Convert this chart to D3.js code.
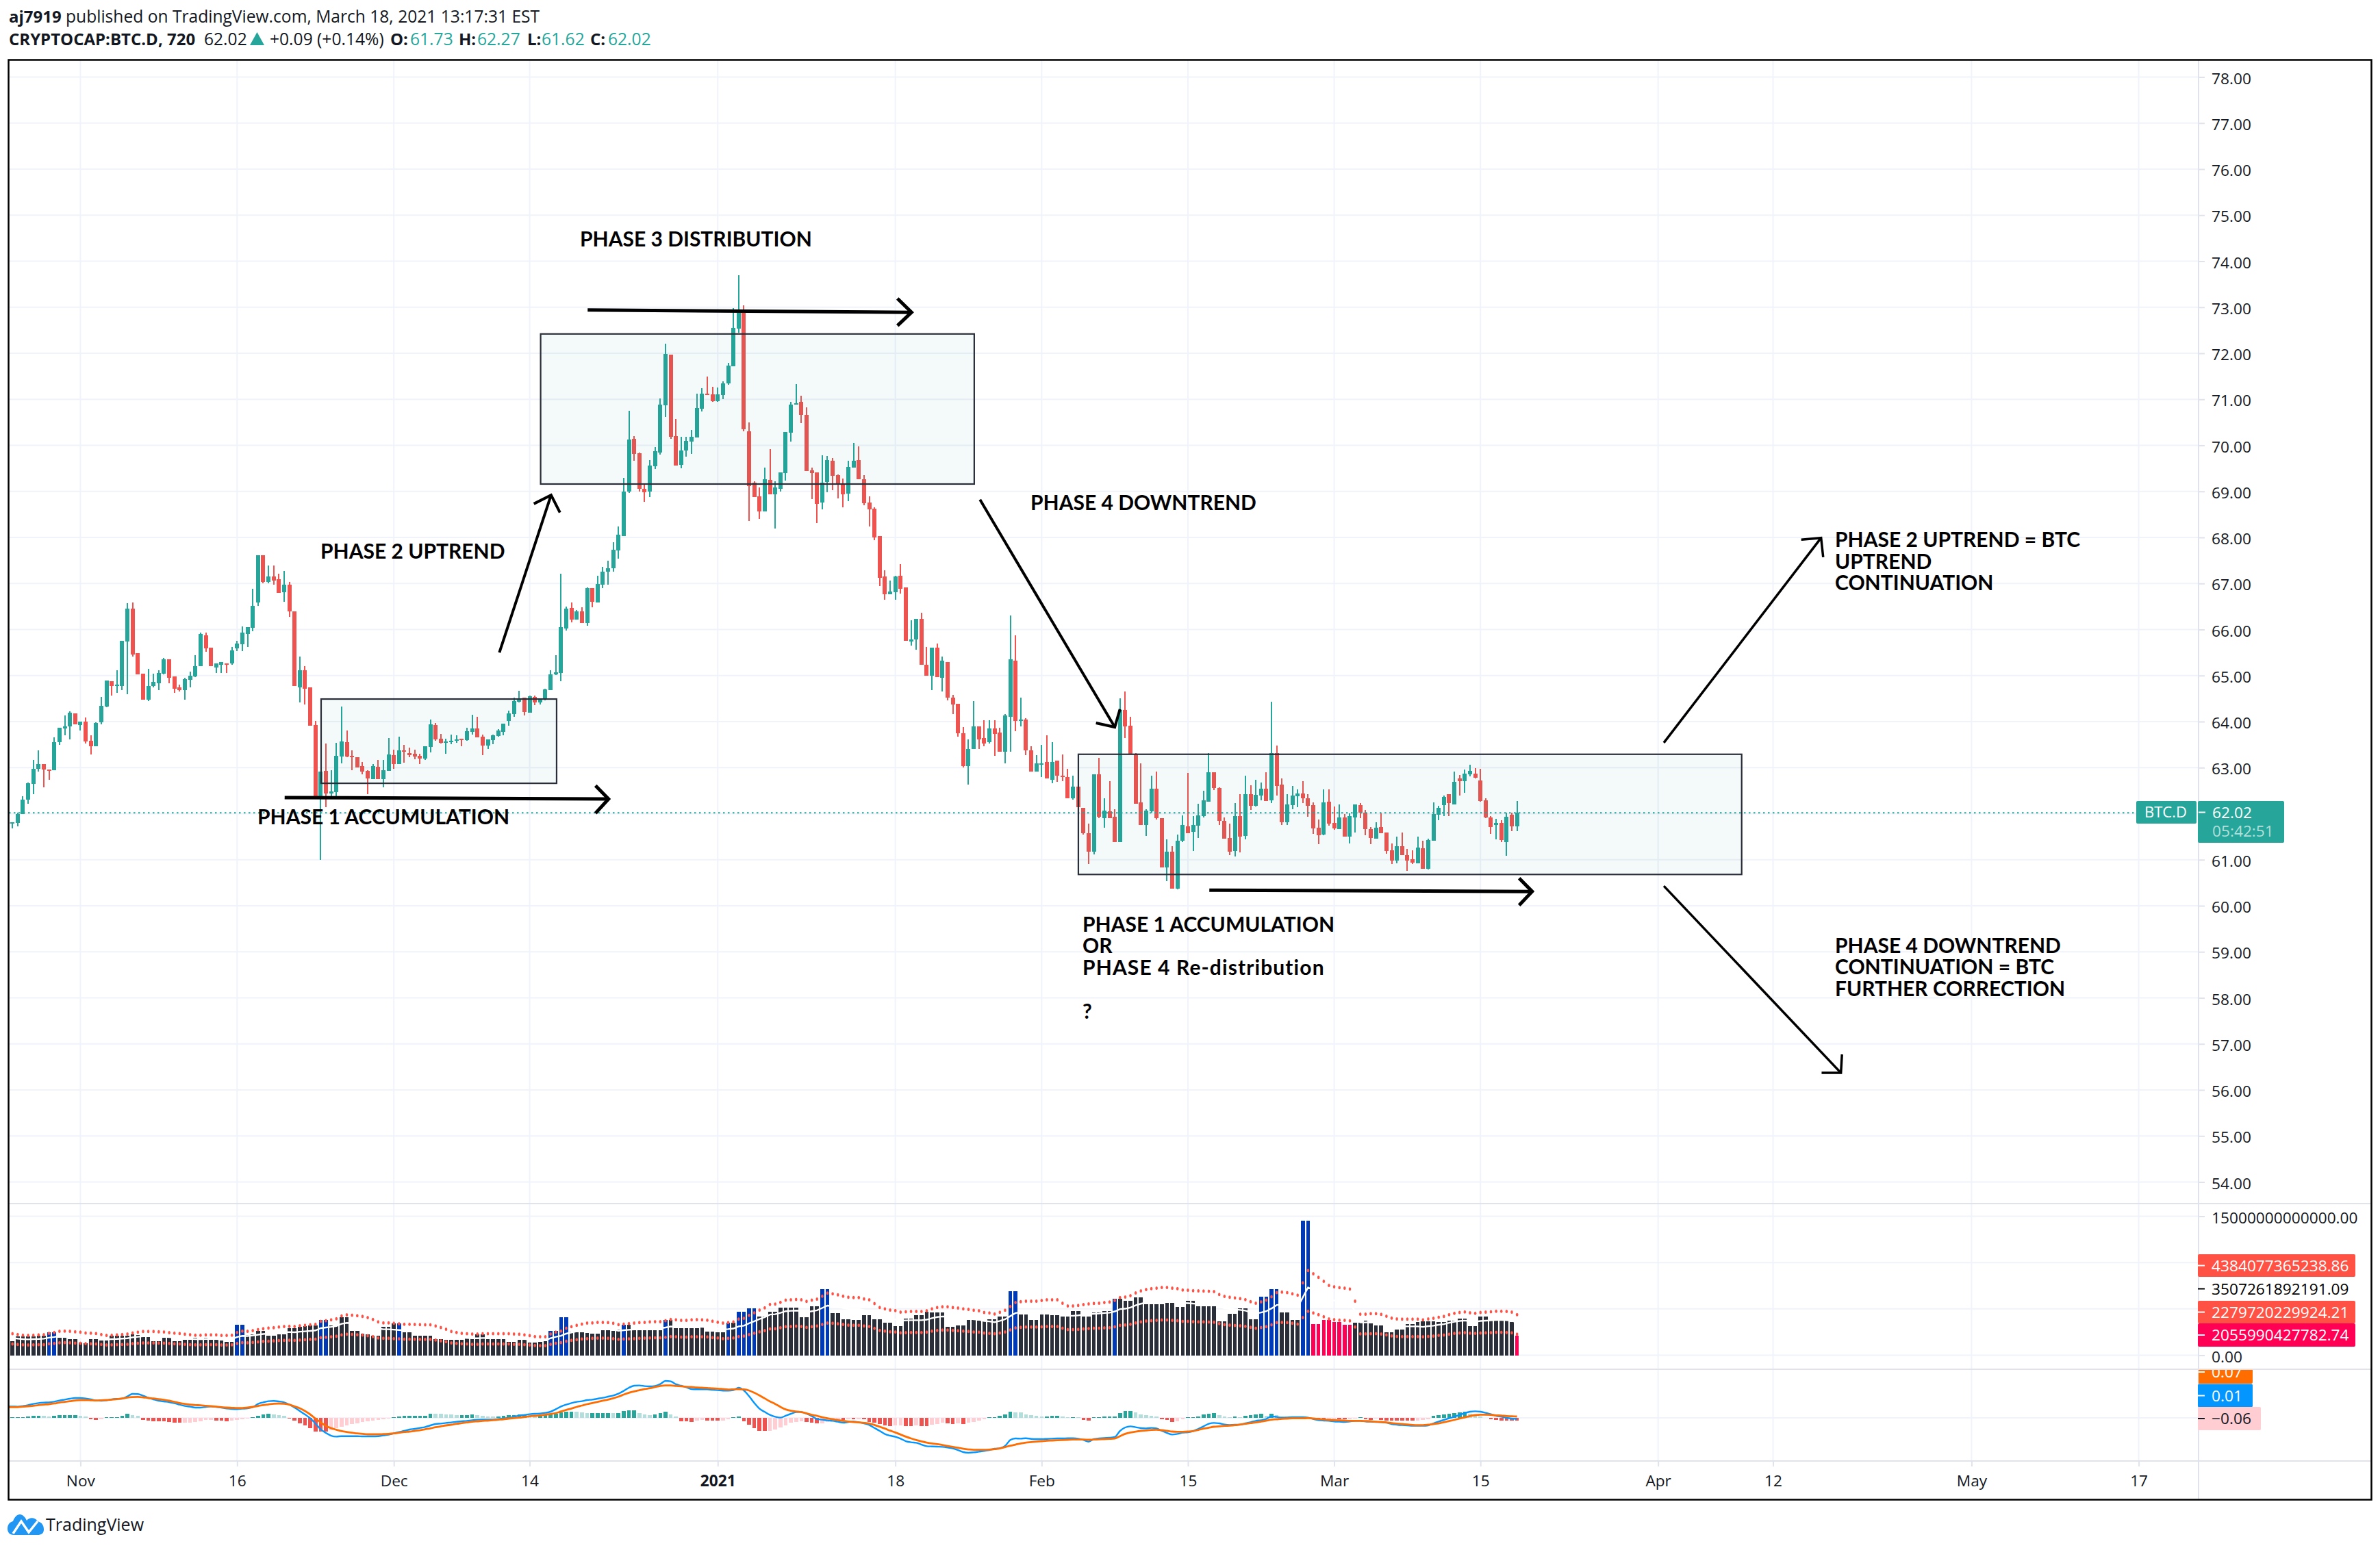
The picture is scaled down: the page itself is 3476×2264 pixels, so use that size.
<!DOCTYPE html>
<html>
<head>
<meta charset="utf-8">
<script src="https://cdn.jsdelivr.net/npm/d3@7/dist/d3.min.js"></script>
<style>
html,body{margin:0;padding:0;background:#fff;overflow:hidden}
text{font-family:"Open Sans",sans-serif;fill:#131722}
</style>
</head>
<body>
<script>
// 12h candles, first bar is Oct 25 2020
var opens = [61.81,61.78,61.80,61.99,62.30,62.65,62.97,63.08,62.96,62.94,
63.55,63.85,63.89,64.18,63.92,64.00,63.58,63.46,63.98,64.32,
64.87,64.77,64.78,65.74,66.46,65.48,65.04,64.47,64.77,64.83,
65.04,65.36,64.98,64.74,64.68,64.90,64.98,65.20,65.88,65.60,
65.18,65.24,65.27,65.26,65.59,65.68,65.91,66.03,66.58,67.61,
67.03,67.15,67.09,66.81,66.97,66.40,64.74,65.12,64.74,63.92,
62.34,62.93,62.44,62.47,63.24,63.56,63.26,63.23,63.04,62.93,
62.75,63.02,62.75,62.93,63.27,63.08,63.38,63.32,63.30,63.26,
63.20,63.45,63.93,63.63,63.54,63.56,63.59,63.63,63.60,63.78,
63.85,63.67,63.48,63.60,63.69,63.78,64.02,64.17,64.43,64.52,
64.19,64.54,64.42,64.49,64.69,65.03,65.06,66.02,66.47,66.22,
66.40,66.14,66.90,66.59,66.97,67.25,67.33,67.72,68.03,69.00,
70.14,69.83,69.06,68.99,69.55,69.85,70.87,71.97,70.20,69.58,
69.89,70.08,70.17,70.80,71.12,71.11,70.96,71.09,71.35,71.72,
72.54,72.95,70.31,69.19,68.89,68.57,69.25,68.94,69.06,69.40,
70.28,70.89,70.95,70.66,69.46,69.41,68.76,69.21,69.67,69.35,
69.15,68.95,69.52,69.68,69.27,68.76,68.63,68.03,67.15,66.76,
66.81,67.16,66.91,65.74,65.78,66.23,65.24,64.99,65.60,64.95,
65.30,64.52,64.38,63.74,63.03,63.41,63.89,63.65,63.55,63.85,
63.76,63.34,64.10,65.33,64.01,64.04,63.37,62.92,63.07,63.12,
62.73,63.15,62.82,62.80,62.34,62.58,62.12,61.58,61.17,62.85,
61.91,62.05,61.94,61.39,64.26,63.91,63.30,62.24,61.76,62.05,
62.55,61.91,60.84,61.18,60.37,61.41,61.73,61.61,61.74,61.95,
62.26,62.90,62.56,61.84,61.47,61.19,61.95,61.52,62.42,62.17,
62.39,62.54,62.29,63.32,62.63,61.81,62.19,62.38,62.44,62.33,
62.19,61.70,61.55,62.26,61.80,61.67,61.92,61.50,61.92,62.19,
62.02,61.67,61.46,61.71,61.59,61.20,60.98,61.29,61.10,61.01,
60.92,61.25,60.80,61.41,61.98,62.19,62.42,62.20,62.77,62.71,
62.86,62.87,62.72,62.29,61.92,61.75,61.80,61.38,61.98,61.73];

var highs = [61.81,61.81,62.02,62.38,62.68,63.17,63.37,63.08,62.96,63.66,
63.87,64.14,64.22,64.18,64.00,64.09,63.70,63.98,64.53,64.89,
64.87,65.11,65.75,66.57,66.58,65.48,65.04,65.14,65.04,65.11,
65.38,65.36,64.98,64.81,64.95,65.08,65.44,65.93,65.94,65.60,
65.27,65.30,65.27,65.62,65.76,66.07,66.05,66.88,67.61,67.61,
67.39,67.39,67.21,67.27,67.03,66.40,65.42,65.21,64.74,64.01,
62.91,63.52,62.95,63.54,64.33,63.81,63.38,63.23,63.12,62.95,
63.08,63.17,63.17,63.65,63.39,63.68,63.50,63.44,63.39,63.30,
63.47,64.05,63.97,63.73,63.63,63.72,63.70,63.63,63.87,64.15,
64.11,63.72,63.62,63.72,63.84,63.96,64.24,64.52,64.67,64.52,
64.57,64.57,64.51,64.72,65.12,65.44,67.21,66.50,66.59,66.43,
66.48,66.92,66.90,67.17,67.36,67.50,67.90,68.24,69.29,70.75,
70.20,69.85,69.16,69.68,69.96,71.02,72.21,71.97,70.57,70.19,
70.19,70.34,71.12,71.24,71.50,71.27,71.26,71.39,71.79,72.98,
73.70,73.04,70.50,69.22,69.09,69.52,69.92,69.22,69.41,70.29,
70.95,71.33,71.08,70.83,69.52,69.41,69.79,69.77,69.73,69.37,
69.28,69.67,70.05,69.98,69.35,68.89,68.66,68.03,67.28,67.06,
67.16,67.42,66.91,66.20,66.23,66.36,65.62,65.60,65.69,65.41,
65.30,64.58,64.38,63.88,63.61,64.44,63.89,64.03,64.03,64.03,
63.86,64.16,66.31,65.87,64.52,64.08,63.47,63.27,63.49,63.70,
63.56,63.15,63.28,62.98,62.83,62.58,62.12,61.79,62.86,63.21,
62.34,62.70,62.09,64.50,64.65,64.11,63.31,63.10,62.09,62.83,
62.91,61.91,61.44,61.29,61.54,61.96,62.89,61.95,62.21,62.50,
63.32,62.90,62.57,61.92,61.78,62.23,62.42,62.82,62.62,62.74,
62.68,62.90,64.43,63.48,62.77,62.42,62.60,62.53,62.71,62.42,
62.25,61.87,62.53,62.53,62.16,62.20,61.99,62.01,62.20,62.23,
62.08,61.71,61.81,62.01,61.59,61.35,61.50,61.59,61.23,61.20,
61.50,61.41,61.46,62.25,62.17,62.39,62.42,62.91,62.84,62.96,
63.06,62.99,62.97,62.33,61.95,61.89,61.86,62.02,62.02,62.27];

var lows = [61.77,61.68,61.72,61.99,62.21,62.42,62.91,62.57,62.74,62.94,
63.49,63.70,63.61,63.94,63.80,63.52,63.28,63.46,63.94,64.31,
64.56,64.63,64.69,64.60,65.41,65.02,64.47,64.44,64.74,64.69,
65.02,64.83,64.62,64.65,64.47,64.74,64.96,65.20,65.51,65.21,
65.06,65.06,65.06,65.24,65.53,65.53,65.62,65.97,66.51,67.01,
67.00,66.98,66.79,66.60,66.27,64.78,64.41,64.37,63.91,62.34,
60.99,62.14,62.35,62.35,63.09,63.23,62.95,63.01,62.86,62.42,
62.75,62.75,62.57,62.93,62.98,63.08,63.11,63.23,63.18,63.08,
63.17,63.33,63.59,63.53,63.30,63.51,63.54,63.47,63.59,63.72,
63.66,63.27,63.41,63.51,63.67,63.70,63.91,64.11,64.42,64.13,
64.19,64.36,64.37,64.46,64.69,65.01,64.88,65.98,66.16,66.22,
66.14,66.08,66.48,66.59,66.90,66.97,67.26,67.54,68.03,68.97,
69.67,69.00,68.77,68.88,69.49,69.80,70.62,70.14,69.56,69.50,
69.76,69.82,70.17,70.74,71.09,70.95,70.95,71.00,71.32,71.72,
72.45,70.31,68.36,68.88,68.40,68.57,68.94,68.19,69.00,69.23,
70.08,70.89,70.48,69.44,68.83,68.31,68.61,68.98,69.03,68.85,
68.66,68.79,69.52,69.27,68.70,68.24,67.94,66.95,66.64,66.76,
66.64,66.78,65.75,65.65,65.56,65.23,64.99,64.68,64.96,64.66,
64.46,64.17,63.68,63.01,62.63,63.40,63.41,63.47,63.52,63.25,
63.34,63.09,63.34,63.79,63.89,63.27,62.92,62.92,62.79,62.76,
62.66,62.69,62.70,62.34,62.31,62.14,61.54,60.90,61.12,61.90,
61.70,61.91,61.39,61.39,63.65,63.30,62.22,61.76,61.51,62.02,
61.87,60.84,60.54,60.37,60.35,61.39,61.57,61.19,61.47,61.92,
62.26,62.51,61.75,61.46,61.10,61.07,61.16,61.44,62.08,62.16,
62.29,62.27,62.23,62.39,61.75,61.75,62.10,62.14,62.23,61.93,
61.56,61.34,61.53,61.74,61.65,61.67,61.50,61.35,61.59,61.90,
61.53,61.34,61.46,61.58,61.13,60.91,60.92,61.10,60.76,60.91,
60.92,60.80,60.79,61.41,61.86,61.95,61.95,62.20,62.39,62.45,
62.81,62.77,62.26,61.90,61.56,61.44,61.38,61.09,61.62,61.62];

var closes = [61.78,61.81,62.00,62.31,62.66,62.98,63.08,62.96,62.94,63.56,
63.86,63.89,64.20,63.94,64.00,63.57,63.47,63.97,64.34,64.89,
64.77,64.80,65.75,66.46,65.45,65.02,64.47,64.78,64.86,65.05,
65.36,64.95,64.72,64.68,64.92,64.99,65.21,65.90,65.59,65.21,
65.27,65.29,65.24,65.54,65.69,65.93,66.05,66.52,67.61,67.04,
67.15,67.06,66.79,66.98,66.39,64.78,65.11,64.72,63.91,62.34,
62.91,62.44,62.48,63.26,63.57,63.24,63.23,63.01,62.92,62.77,
63.04,62.75,62.95,63.29,63.08,63.38,63.36,63.27,63.24,63.20,
63.47,63.94,63.62,63.54,63.57,63.59,63.62,63.61,63.79,63.85,
63.66,63.48,63.62,63.70,63.81,63.96,64.18,64.45,64.48,64.21,
64.55,64.42,64.48,64.70,65.03,65.07,66.05,66.45,66.22,66.40,
66.14,66.90,66.60,66.99,67.26,67.33,67.73,68.06,69.00,70.13,
69.82,69.06,68.98,69.56,69.87,70.89,71.99,70.19,69.56,69.89,
70.10,70.19,70.81,71.12,71.11,70.96,71.11,71.35,71.73,72.55,
72.95,70.35,69.12,68.88,68.57,69.27,68.94,69.09,69.41,70.29,
70.89,70.92,70.66,69.44,69.40,68.73,69.19,69.68,69.34,69.14,
68.94,69.53,69.67,69.27,68.74,68.61,68.00,67.13,66.76,66.82,
67.15,66.88,65.75,65.79,66.23,65.23,64.99,65.60,64.96,65.32,
64.52,64.37,63.74,63.04,63.40,63.89,63.62,63.52,63.85,63.73,
63.34,64.13,65.35,64.01,64.04,63.38,62.92,63.10,63.09,62.76,
63.12,62.83,62.79,62.34,62.58,62.14,61.57,61.17,62.85,61.94,
62.06,61.91,61.39,64.25,63.89,63.30,62.22,61.76,62.06,62.54,
61.91,60.84,61.18,60.37,61.42,61.76,61.58,61.75,61.96,62.29,
62.90,62.56,61.84,61.46,61.17,61.95,61.50,62.42,62.17,62.41,
62.54,62.27,63.32,62.60,61.81,62.20,62.39,62.44,62.33,62.17,
61.68,61.53,62.25,61.78,61.68,61.92,61.50,61.95,62.20,62.02,
61.67,61.47,61.70,61.58,61.19,60.98,61.29,61.10,60.98,60.94,
61.26,60.80,61.43,61.99,62.13,62.36,62.23,62.69,62.71,62.87,
62.93,62.78,62.27,61.92,61.71,61.80,61.43,61.93,61.72,62.02];

// volume in trillions
var volumes = [1.55,1.55,2.0,2.0,2.0,2.0,2.07,2.07,2.49,2.49,
1.85,1.85,1.7,1.7,1.4,1.31,1.75,1.7,1.58,1.6,
2.07,2.07,2.14,2.14,2.22,2.19,2.12,2.12,1.53,1.53,
1.85,1.85,1.53,1.53,1.67,1.65,1.85,1.8,1.85,1.63,
1.63,1.58,1.45,1.45,3.3,3.3,2.17,2.22,2.66,2.66,
2.07,2.07,2.29,2.29,2.91,2.91,3.1,3.15,3.18,3.18,
3.82,3.82,3.2,3.15,4.11,4.11,2.66,2.66,2.32,2.27,
2.12,2.12,3.1,3.1,3.4,3.4,2.44,2.44,2.07,2.07,
2.12,2.14,1.77,1.72,1.67,1.67,1.67,1.67,1.87,1.92,
2.22,2.22,1.7,1.7,1.7,1.7,1.45,1.45,1.63,1.63,
1.4,1.4,1.43,1.48,2.59,2.59,4.11,4.11,2.56,2.44,
2.44,2.41,2.36,2.36,2.71,2.71,2.59,2.76,3.28,3.28,
2.71,2.71,2.73,2.73,2.73,2.73,3.82,3.82,2.91,2.91,
2.91,2.93,2.93,2.96,2.56,2.56,2.44,2.44,3.52,3.52,
4.7,4.7,5.07,5.07,4.14,4.14,4.7,4.7,5.12,5.12,
5.12,5.12,4.11,4.11,5.3,5.3,7.14,7.14,4.56,4.56,
3.89,3.89,3.82,3.82,4.33,4.33,3.89,3.89,3.52,3.52,
3.15,3.15,3.97,3.97,4.33,4.33,4.7,4.63,4.63,4.63,
3.08,3.08,3.23,3.23,3.82,3.82,3.74,3.74,3.89,3.89,
4.19,4.19,6.92,6.92,4.41,4.41,3.82,3.82,4.41,4.41,
4.33,4.29,4.19,4.19,4.78,4.78,4.19,4.19,4.63,4.63,
4.78,4.78,6.11,6.11,5.89,5.89,6.26,6.26,5.47,5.52,
5.52,5.52,5.67,5.62,5.22,5.22,5.89,5.89,5.3,5.3,
5.3,5.3,3.67,3.67,4.48,4.48,5.07,5.07,3.89,3.89,
6.33,6.33,7.14,7.14,4.63,4.63,3.82,3.82,14.53,14.53,
3.37,3.37,3.82,3.82,3.6,3.6,3.3,3.3,3.52,3.52,
3.74,3.45,3.23,3.23,2.49,2.49,2.78,2.78,3.37,3.37,
3.6,3.67,3.67,3.67,3.6,3.6,3.74,3.74,3.97,3.97,
3.15,3.15,4.19,4.19,3.82,3.82,3.74,3.74,3.6,2.12];

var blueBars = [8,9,44,45,60,61,75,104,105,106,107,118,126,138,140,141,142,143,156,157,192,193,212,240,241,242,243,248,249];
var pinkBars = [250,251,252,253,254,255,256,257,289];

var volUpper = [2.32,2.32,2.24,2.17,2.14,2.17,2.19,2.22,2.36,2.46,
2.59,2.61,2.59,2.54,2.49,2.41,2.39,2.34,2.24,2.14,
2.17,2.19,2.24,2.29,2.41,2.49,2.56,2.56,2.56,2.54,
2.51,2.44,2.39,2.34,2.27,2.22,2.17,2.17,2.19,2.19,
2.19,2.14,2.14,2.17,2.46,2.61,2.59,2.66,2.78,2.86,
2.93,2.98,3.05,3.10,3.13,3.10,3.18,3.23,3.28,3.35,
3.65,3.74,3.82,3.94,4.24,4.36,4.33,4.26,4.19,4.06,
3.87,3.60,3.50,3.50,3.45,3.40,3.35,3.35,3.33,3.30,
3.28,3.28,3.15,3.00,2.81,2.56,2.46,2.36,2.32,2.29,
2.29,2.32,2.32,2.32,2.32,2.32,2.32,2.29,2.27,2.19,
2.12,2.02,2.00,2.00,2.29,2.49,2.61,2.91,3.08,3.23,
3.37,3.47,3.50,3.55,3.55,3.52,3.45,3.30,3.37,3.42,
3.47,3.52,3.55,3.60,3.62,3.62,3.74,3.87,3.82,3.77,
3.77,3.82,3.84,3.82,3.79,3.67,3.57,3.47,3.52,3.60,
3.89,3.99,4.31,4.58,4.88,5.12,5.49,5.52,5.71,5.94,
5.99,6.03,5.99,5.81,5.94,6.06,6.38,6.70,6.63,6.53,
6.38,6.26,6.23,6.23,6.08,5.99,5.57,5.15,5.00,4.88,
4.83,4.66,4.70,4.73,4.73,4.73,4.80,5.00,5.15,5.22,
5.22,5.15,5.10,5.00,4.95,4.85,4.80,4.61,4.56,4.46,
4.63,4.85,5.27,5.69,5.79,5.84,5.84,5.84,5.91,5.99,
5.99,5.99,5.62,5.32,5.32,5.37,5.47,5.54,5.59,5.62,
5.69,5.74,5.91,6.23,6.28,6.43,6.72,6.95,7.09,7.19,
7.24,7.32,7.32,7.24,7.19,7.04,7.02,6.97,6.95,6.92,
6.90,6.87,6.55,6.35,6.26,6.18,6.11,6.01,5.79,5.62,
5.76,5.94,6.31,6.77,6.82,6.77,6.63,6.48,7.81,9.14,
8.79,8.40,7.98,7.54,7.39,7.29,7.24,7.14,5.84,4.43,
4.43,4.48,4.48,4.41,4.21,4.01,3.92,3.89,3.89,3.89,
3.89,3.82,3.92,3.99,4.11,4.19,4.38,4.53,4.61,4.68,
4.58,4.53,4.61,4.66,4.70,4.75,4.75,4.73,4.66,4.38];

var volMid = [1.86,1.86,1.79,1.74,1.71,1.74,1.75,1.78,1.89,1.97,
2.07,2.09,2.07,2.03,1.99,1.93,1.91,1.87,1.79,1.71,
1.74,1.75,1.79,1.83,1.93,1.99,2.05,2.05,2.05,2.03,
2.01,1.95,1.91,1.87,1.82,1.78,1.74,1.74,1.75,1.75,
1.75,1.71,1.71,1.74,1.97,2.09,2.07,2.13,2.22,2.29,
2.34,2.38,2.44,2.48,2.50,2.48,2.54,2.58,2.62,2.68,
2.92,2.99,3.06,3.15,3.39,3.49,3.46,3.41,3.35,3.25,
3.10,2.88,2.80,2.80,2.76,2.72,2.68,2.68,2.66,2.64,
2.62,2.62,2.52,2.40,2.25,2.05,1.97,1.89,1.86,1.83,
1.83,1.86,1.86,1.86,1.86,1.86,1.86,1.83,1.82,1.75,
1.70,1.62,1.60,1.60,1.83,1.99,2.09,2.33,2.46,2.58,
2.70,2.78,2.80,2.84,2.84,2.82,2.76,2.64,2.70,2.74,
2.78,2.82,2.84,2.88,2.90,2.90,2.99,3.10,3.06,3.02,
3.02,3.06,3.07,3.06,3.03,2.94,2.86,2.78,2.82,2.88,
3.11,3.19,3.45,3.66,3.90,4.10,4.39,4.42,4.57,4.75,
4.79,4.82,4.79,4.65,4.75,4.85,5.10,5.36,5.30,5.22,
5.10,5.01,4.98,4.98,4.86,4.79,4.46,4.12,4.00,3.90,
3.86,3.73,3.76,3.78,3.78,3.78,3.84,4.00,4.12,4.18,
4.18,4.12,4.08,4.00,3.96,3.88,3.84,3.69,3.65,3.57,
3.70,3.88,4.22,4.55,4.63,4.67,4.67,4.67,4.73,4.79,
4.79,4.79,4.50,4.26,4.26,4.30,4.38,4.43,4.47,4.50,
4.55,4.59,4.73,4.98,5.02,5.14,5.38,5.56,5.67,5.75,
5.79,5.86,5.86,5.79,5.75,5.63,5.62,5.58,5.56,5.54,
5.52,5.50,5.24,5.08,5.01,4.94,4.89,4.81,4.63,4.50,
4.61,4.75,5.05,5.42,5.46,5.42,5.30,5.18,6.25,7.31,
7.03,6.72,6.38,6.03,5.91,5.83,5.79,5.71,4.67,3.54,
3.54,3.58,3.58,3.53,3.37,3.21,3.14,3.11,3.11,3.11,
3.11,3.06,3.14,3.19,3.29,3.35,3.50,3.62,3.69,3.74,
3.66,3.62,3.69,3.73,3.76,3.80,3.80,3.78,3.73,3.51];

var volLower = [1.21,1.21,1.16,1.13,1.11,1.13,1.14,1.15,1.23,1.28,
1.35,1.36,1.35,1.32,1.29,1.25,1.24,1.22,1.16,1.11,
1.13,1.14,1.16,1.19,1.25,1.29,1.33,1.33,1.33,1.32,
1.31,1.27,1.24,1.22,1.18,1.15,1.13,1.13,1.14,1.14,
1.14,1.11,1.11,1.13,1.28,1.36,1.35,1.38,1.45,1.49,
1.52,1.55,1.59,1.61,1.63,1.61,1.65,1.68,1.71,1.74,
1.90,1.94,1.99,2.05,2.20,2.27,2.25,2.22,2.18,2.11,
2.01,1.87,1.82,1.82,1.79,1.77,1.74,1.74,1.73,1.72,
1.71,1.71,1.64,1.56,1.46,1.33,1.28,1.23,1.21,1.19,
1.19,1.21,1.21,1.21,1.21,1.21,1.21,1.19,1.18,1.14,
1.10,1.05,1.04,1.04,1.19,1.29,1.36,1.51,1.60,1.68,
1.75,1.80,1.82,1.85,1.85,1.83,1.79,1.72,1.75,1.78,
1.80,1.83,1.85,1.87,1.88,1.88,1.94,2.01,1.99,1.96,
1.96,1.99,2.00,1.99,1.97,1.91,1.86,1.80,1.83,1.87,
2.02,2.07,2.24,2.38,2.54,2.66,2.85,2.87,2.97,3.09,
3.11,3.14,3.11,3.02,3.09,3.15,3.32,3.48,3.45,3.40,
3.32,3.26,3.24,3.24,3.16,3.11,2.90,2.68,2.60,2.54,
2.51,2.42,2.44,2.46,2.46,2.46,2.50,2.60,2.68,2.71,
2.71,2.68,2.65,2.60,2.57,2.52,2.50,2.40,2.37,2.32,
2.41,2.52,2.74,2.96,3.01,3.04,3.04,3.04,3.07,3.11,
3.11,3.11,2.92,2.77,2.77,2.79,2.84,2.88,2.91,2.92,
2.96,2.98,3.07,3.24,3.27,3.34,3.49,3.61,3.69,3.74,
3.76,3.81,3.81,3.76,3.74,3.66,3.65,3.62,3.61,3.60,
3.59,3.57,3.41,3.30,3.26,3.21,3.18,3.13,3.01,2.92,
3.00,3.09,3.28,3.52,3.55,3.52,3.45,3.37,4.06,4.75,
4.57,4.37,4.15,3.92,3.84,3.79,3.76,3.71,3.04,2.30,
2.30,2.33,2.33,2.29,2.19,2.09,2.04,2.02,2.02,2.02,
2.02,1.99,2.04,2.07,2.14,2.18,2.28,2.36,2.40,2.43,
2.38,2.36,2.40,2.42,2.44,2.47,2.47,2.46,2.42,2.28];

var macdLine = [.25,.25,.245,.26,.28,.305,.325,.335,.34,.355,
.38,.40,.42,.435,.435,.425,.405,.38,.375,.385,
.405,.415,.42,.47,.525,.52,.485,.44,.405,.375,
.36,.345,.32,.29,.26,.245,.225,.225,.24,.25,
.24,.225,.205,.195,.19,.20,.21,.235,.305,.34,
.365,.37,.36,.34,.29,.225,.15,.075,-.01,-.125,
-.25,-.33,-.39,-.41,-.40,-.40,-.40,-.40,-.405,-.405,
-.405,-.40,-.385,-.37,-.34,-.31,-.285,-.255,-.24,-.22,
-.20,-.165,-.135,-.125,-.11,-.10,-.085,-.075,-.065,-.05,
-.04,-.035,-.035,-.035,-.025,-.01,0,.025,.05,.065,
.08,.09,.095,.11,.135,.19,.25,.29,.325,.35,
.365,.39,.40,.42,.44,.465,.49,.53,.59,.66,
.705,.71,.695,.69,.70,.74,.81,.80,.735,.705,
.67,.63,.625,.625,.625,.615,.605,.595,.595,.605,
.66,.60,.475,.325,.20,.13,.065,.025,.005,.045,
.09,.125,.13,.09,.04,-.025,-.04,-.055,-.065,-.085,
-.105,-.09,-.08,-.095,-.12,-.155,-.22,-.285,-.355,-.39,
-.415,-.455,-.51,-.535,-.545,-.585,-.62,-.625,-.63,-.635,
-.65,-.67,-.705,-.75,-.765,-.755,-.74,-.725,-.705,-.675,
-.665,-.615,-.485,-.45,-.455,-.445,-.46,-.465,-.465,-.46,
-.455,-.45,-.45,-.445,-.445,-.455,-.485,-.52,-.465,-.45,
-.44,-.435,-.42,-.285,-.21,-.185,-.205,-.225,-.23,-.22,
-.23,-.285,-.33,-.365,-.35,-.325,-.315,-.29,-.24,-.185,
-.13,-.11,-.12,-.145,-.155,-.15,-.15,-.12,-.095,-.065,
-.05,-.025,.035,.02,.005,.01,.015,.015,.015,.005,
-.025,-.05,-.06,-.065,-.08,-.085,-.09,-.08,-.065,-.065,
-.08,-.085,-.09,-.095,-.105,-.135,-.15,-.16,-.165,-.175,
-.175,-.175,-.165,-.12,-.08,-.045,-.01,.025,.065,.105,
.135,.145,.135,.11,.08,.045,.025,0,-.015,-.02];

var signalLine = [.235,.235,.235,.245,.255,.265,.28,.29,.30,.315,
.335,.35,.365,.38,.39,.39,.385,.38,.385,.39,
.40,.41,.425,.445,.455,.46,.45,.435,.425,.41,
.395,.375,.35,.325,.305,.29,.28,.275,.265,.255,
.245,.235,.225,.22,.215,.215,.225,.24,.26,.28,
.295,.31,.315,.31,.29,.25,.21,.15,.075,-.015,
-.10,-.175,-.225,-.26,-.29,-.31,-.325,-.34,-.35,-.36,
-.36,-.36,-.355,-.35,-.34,-.325,-.31,-.30,-.285,-.27,
-.25,-.23,-.205,-.185,-.165,-.15,-.13,-.115,-.10,-.085,
-.075,-.065,-.06,-.05,-.04,-.03,-.015,-.005,.005,.02,
.035,.045,.055,.07,.085,.105,.14,.175,.205,.24,
.27,.30,.325,.35,.375,.40,.43,.465,.51,.55,
.58,.605,.63,.65,.675,.70,.71,.71,.70,.69,
.68,.675,.665,.66,.655,.645,.64,.63,.62,.625,
.63,.625,.60,.55,.49,.425,.36,.305,.24,.185,
.155,.14,.125,.10,.065,.045,.015,-.01,-.03,-.05,
-.065,-.08,-.09,-.10,-.11,-.125,-.155,-.195,-.235,-.28,
-.32,-.365,-.41,-.45,-.485,-.515,-.54,-.56,-.575,-.595,
-.615,-.635,-.655,-.675,-.69,-.70,-.70,-.70,-.695,-.685,
-.67,-.64,-.61,-.585,-.56,-.54,-.53,-.52,-.51,-.50,
-.495,-.49,-.485,-.48,-.475,-.475,-.475,-.48,-.475,-.47,
-.465,-.46,-.45,-.40,-.35,-.32,-.30,-.285,-.275,-.265,
-.26,-.27,-.285,-.30,-.305,-.305,-.30,-.29,-.265,-.235,
-.215,-.195,-.185,-.175,-.17,-.16,-.145,-.13,-.115,-.10,
-.08,-.06,-.04,-.03,-.02,-.015,-.01,-.01,-.01,-.005,
-.015,-.025,-.035,-.045,-.05,-.055,-.06,-.065,-.065,-.065,
-.07,-.075,-.085,-.09,-.10,-.115,-.125,-.135,-.145,-.155,
-.16,-.16,-.15,-.135,-.12,-.095,-.07,-.045,-.015,.01,
.04,.06,.07,.07,.065,.055,.05,.04,.035,.03];

var macdHist = [.01,.015,.015,.015,.025,.04,.05,.045,.035,.05,
.055,.055,.055,.055,.045,.03,-.035,-.04,-.025,.015,
.015,.015,.05,.085,.06,.04,-.04,-.06,-.075,-.08,
-.08,-.085,-.1,-.11,-.105,-.1,-.09,-.075,-.05,-.04,
-.06,-.065,-.07,-.06,-.05,-.035,-.02,.015,.045,.08,
.085,.07,.06,.045,-.01,-.065,-.12,-.17,-.225,-.3,
-.3,-.3,-.275,-.225,-.2,-.17,-.14,-.115,-.09,-.075,
-.06,-.04,-.025,-.015,.015,.025,.045,.05,.05,.05,
.05,.095,.09,.085,.08,.07,.065,.065,.065,.07,
.055,.045,.035,.025,.03,.04,.055,.065,.075,.075,
.065,.055,.055,.07,.085,.095,.12,.135,.135,.13,
.12,.1,.1,.1,.1,.105,.1,.11,.15,.165,
.165,.11,.08,.065,.08,.1,.135,.07,.025,-.07,
-.075,-.085,-.06,-.05,-.055,-.06,-.065,-.06,-.03,.015,
.03,-.08,-.15,-.22,-.29,-.29,-.285,-.26,-.21,-.16,
-.105,-.085,-.07,-.085,-.11,-.125,-.12,-.095,-.065,-.04,
-.045,-.035,-.035,-.03,-.03,-.09,-.11,-.14,-.16,-.18,
-.17,-.165,-.18,-.18,-.16,-.18,-.18,-.15,-.13,-.11,
-.12,-.13,-.12,-.135,-.1,-.085,-.055,-.03,.015,.02,
.04,.07,.135,.125,.115,.075,.055,.04,.035,.035,
.04,.04,.03,.02,.02,.01,-.05,-.06,.02,.02,
.025,.03,.03,.1,.15,.15,.125,.07,.06,.045,
.025,-.035,-.04,-.09,-.07,-.03,.015,.02,.03,.07,
.09,.1,.06,.03,.015,.035,.02,.05,.06,.075,
.085,.05,.09,.06,.03,.02,.015,.015,.01,.01,
-.01,-.03,-.04,-.03,-.025,-.025,-.03,-.025,-.015,.015,
-.035,-.045,-.02,-.045,-.055,-.06,-.065,-.065,-.065,-.065,
-.06,-.05,-.03,.04,.06,.08,.09,.105,.125,.135,
.09,.06,.035,.005,-.03,-.05,-.06,-.06,-.06,-.06];

var priceTicks = [54,55,56,57,58,59,60,61,62,63,64,65,66,67,68,69,70,71,72,73,74,75,76,77,78];
var timeTicks = ["2020-11-01","2020-11-16","2020-12-01","2020-12-14","2021-01-01","2021-01-18","2021-02-01","2021-02-15","2021-03-01","2021-03-15","2021-04-01","2021-04-12","2021-05-01","2021-05-17"];
var timeLabels = ["Nov","16","Dec","14","2021","18","Feb","15","Mar","15","Apr","12","May","17"];
var volTicks = [0,5,10,15];
var lastPrice = 62.02;

// boxes and arrows are anchored to [bar number, price] like the drawing tools
var boxes = [[60.08,105.16,64.49,62.66],[102.1,185.1,72.42,69.16],[205.03,332,63.29,60.68]];
var arrows = [
  {w:5,p:[[53.1,62.35],[115.1,62.32]],head:[[112.6,62.61],[115.1,62.32],[112.6,62.01]]},
  {w:4,p:[[94.2,65.50],[104.1,68.92]],head:[[100.8,68.73],[104.1,68.92],[105.8,68.54]]},
  {w:5,p:[[111.1,72.94],[173.1,72.89]],head:[[170.4,73.19],[173.1,72.89],[170.4,72.60]]},
  {w:4,p:[[186.2,68.82],[212,63.88]],head:[[208.4,63.97],[212,63.88],[213,64.27]]},
  {w:5,p:[[230.1,60.34],[291.9,60.31]],head:[[289.4,60.60],[291.9,60.31],[289.4,60.01]]},
  {w:3.5,p:[[317.1,63.54],[347.2,67.99]],head:[[343.4,67.95],[347.2,67.99],[347.6,67.57]]},
  {w:3.5,p:[[317.1,60.43],[351,56.37]],head:[[347.3,56.37],[351,56.37],[351.2,56.77]]}
];
var notes = [
  ["PHASE 3 DISTRIBUTION",847,360,0],
  ["PHASE 2 UPTREND",468,816,0],
  ["PHASE 1 ACCUMULATION",376,1204,0],
  ["PHASE 4 DOWNTREND",1505,745,0],
  ["PHASE 1 ACCUMULATION",1581,1361,0],
  ["OR",1581,1392,0],
  ["PHASE 4 Re-distribution",1581,1424,1.1],
  ["?",1581,1488,0],
  ["PHASE 2 UPTREND = BTC",2680,799,0],
  ["UPTREND",2680,831,0],
  ["CONTINUATION",2680,862,0],
  ["PHASE 4 DOWNTREND",2680,1392,0],
  ["CONTINUATION = BTC",2680,1423,0],
  ["FURTHER CORRECTION",2680,1455,0]
];

// ---- layout
var width = 3476, height = 2264;
var left = 13, axisX = 3211, frameR = 3463, top0 = 87, paneMain = 1758, paneVol = 2000, paneMacd = 2134, bottom = 2190;
var green = "#26a69a", red = "#ef5350", gridC = "#f0f3fa", lineC = "#e0e3eb", dark = "#2a2e39";

var x = d3.scaleUtc().domain([new Date(Date.UTC(2020,10,1)), new Date(Date.UTC(2021,4,17))]).range([117.4, 3123.6]);
var y = d3.scaleLinear().domain([54,78]).range([1726.5,112.5]);
var yVol = d3.scaleLinear().domain([0,15]).range([1979.5,1776.5]);
var yMacd = d3.scaleLinear().domain([-1,1]).range([2137.7,2004.3]);
var t0 = Date.UTC(2020,9,25);
function barX(i){ return x(new Date(t0 + i*43200000)); }

var svg = d3.select("body").append("svg").attr("width",width).attr("height",height).style("display","block");
var defs = svg.append("defs");
function clip(id,y0,y1,x1){
  defs.append("clipPath").attr("id",id).append("rect").attr("x",left).attr("y",y0).attr("width",(x1||axisX)-left).attr("height",y1-y0);
}
clip("cMain",top0,paneMain); clip("cVol",paneMain,paneVol); clip("cMacd",paneVol,paneMacd);
defs.append("clipPath").attr("id","cMacdLab").append("rect").attr("x",axisX).attr("y",paneVol+1).attr("width",250).attr("height",134);

// ---- grid
var tickDates = timeTicks.map(function(d){ return new Date(d+"T00:00:00Z"); });
var grid = svg.append("g").attr("stroke",gridC).attr("stroke-width",2);
grid.selectAll("line.v").data(tickDates).enter().append("line").attr("class","v")
  .attr("x1",function(d){return x(d);}).attr("x2",function(d){return x(d);}).attr("y1",top0).attr("y2",paneMacd);
grid.selectAll("line.p").data(priceTicks).enter().append("line").attr("class","p")
  .attr("x1",left).attr("x2",axisX).attr("y1",function(d){return y(d);}).attr("y2",function(d){return y(d);});
grid.selectAll("line.vol").data(volTicks).enter().append("line").attr("class","vol")
  .attr("x1",left).attr("x2",axisX).attr("y1",function(d){return yVol(d);}).attr("y2",function(d){return yVol(d);});
grid.append("line").attr("x1",left).attr("x2",axisX).attr("y1",yMacd(0)).attr("y2",yMacd(0));

// ---- candles
var candles = opens.map(function(o,i){ return {i:i,o:o,h:highs[i],l:lows[i],c:closes[i]}; });
var main = svg.append("g").attr("clip-path","url(#cMain)").attr("shape-rendering","crispEdges");
main.selectAll("rect.w").data(candles).enter().append("rect").attr("class","w")
  .attr("x",function(d){return barX(d.i)-1;}).attr("width",2)
  .attr("y",function(d){return y(d.h);}).attr("height",function(d){return y(d.l)-y(d.h);})
  .attr("fill",function(d){return d.c>=d.o?green:red;});
main.selectAll("rect.b").data(candles).enter().append("rect").attr("class","b")
  .attr("x",function(d){return barX(d.i)-3;}).attr("width",6)
  .attr("y",function(d){return y(Math.max(d.o,d.c));})
  .attr("height",function(d){return Math.max(2,Math.abs(y(d.o)-y(d.c)));})
  .attr("fill",function(d){return d.c>=d.o?green:red;});

svg.append("line").attr("x1",left).attr("x2",axisX).attr("y1",y(lastPrice)).attr("y2",y(lastPrice))
  .attr("stroke",green).attr("stroke-width",2).attr("stroke-dasharray","2.5 4.5");

// ---- drawings
var drawn = svg.append("g").attr("clip-path","url(#cMain)");
drawn.selectAll("rect").data(boxes).enter().append("rect")
  .attr("x",function(d){return barX(d[0]);}).attr("width",function(d){return barX(d[1])-barX(d[0]);})
  .attr("y",function(d){return y(d[2]);}).attr("height",function(d){return y(d[3])-y(d[2]);})
  .attr("fill","rgba(0,121,107,0.045)").attr("stroke",dark).attr("stroke-width",2.2);
var pen = d3.line().x(function(d){return barX(d[0]);}).y(function(d){return y(d[1]);});
arrows.forEach(function(a){
  [a.p,a.head].forEach(function(pts){
    drawn.append("path").attr("d",pen(pts)).attr("fill","none").attr("stroke","#000").attr("stroke-width",a.w);
  });
});
svg.append("g").selectAll("text").data(notes).enter().append("text")
  .attr("x",function(d){return d[1];}).attr("y",function(d){return d[2];}).text(function(d){return d[0];})
  .style("font-family","Lato").style("font-size","30px").style("font-weight",700).style("fill","#000")
  .style("letter-spacing",function(d){return d[3]+"px";});

// ---- volume pane
var vol = svg.append("g").attr("clip-path","url(#cVol)");
vol.selectAll("rect").data(volumes).enter().append("rect")
  .attr("x",function(d,i){return barX(i)-2.8;}).attr("width",5.6)
  .attr("y",function(d){return yVol(d);}).attr("height",function(d){return yVol(0)-yVol(d);})
  .attr("fill",function(d,i){ return blueBars.indexOf(i)>=0 ? "#0039b5" : pinkBars.indexOf(i)>=0 ? "#ff0055" : dark; })
  .attr("shape-rendering","crispEdges");
var volLine = d3.line().x(function(d,i){return barX(i);}).y(function(d){return yVol(d);});
vol.append("path").attr("d",volLine(volMid)).attr("fill","none").attr("stroke","#fff").attr("stroke-width",2.4);
[volUpper,volLower].forEach(function(s){
  vol.append("g").selectAll("ellipse").data(s).enter().append("ellipse")
    .attr("cx",function(d,i){return barX(i);}).attr("cy",function(d){return yVol(d);})
    .attr("rx",1.8).attr("ry",2.5).attr("fill","#ff5245");
});

// ---- macd pane
var macd = svg.append("g").attr("clip-path","url(#cMacd)");
macd.selectAll("rect").data(macdHist).enter().append("rect")
  .attr("x",function(d,i){return barX(i)-2.8;}).attr("width",5.6)
  .attr("y",function(d){return Math.min(yMacd(d),yMacd(0));})
  .attr("height",function(d){return Math.abs(yMacd(d)-yMacd(0));})
  .attr("fill",function(d,i){
    var prev = i>0 ? macdHist[i-1] : 0;
    if(d>=0) return d>=prev ? green : "#b2dfdb";
    return d<=prev ? red : "#ffcdd2";
  }).attr("shape-rendering","crispEdges");
var mLine = d3.line().x(function(d,i){return barX(i);}).y(function(d){return yMacd(d);}).curve(d3.curveMonotoneX);
macd.append("path").attr("d",mLine(macdLine)).attr("fill","none").attr("stroke","#0496ff").attr("stroke-width",2.4);
macd.append("path").attr("d",mLine(signalLine)).attr("fill","none").attr("stroke","#ff6d00").attr("stroke-width",2.8);

// ---- separators
var sep = svg.append("g").attr("stroke",lineC).attr("stroke-width",2);
[paneMain,paneVol,paneMacd].forEach(function(v){
  sep.append("line").attr("x1",left).attr("x2",frameR).attr("y1",v).attr("y2",v);
});
sep.append("line").attr("x1",axisX).attr("x2",axisX).attr("y1",top0).attr("y2",bottom);

// ---- axes
var axisFont = "22.7px";
function styleAxis(g){
  g.select(".domain").remove();
  g.selectAll(".tick line").attr("stroke",lineC).attr("stroke-width",2);
  g.selectAll(".tick text").style("font-family","Open Sans").style("font-size",axisFont).attr("fill","#131722");
}
var priceAxis = d3.axisRight(y).tickValues(priceTicks).tickSize(9).tickPadding(10).tickFormat(d3.format(".2f"));
svg.append("g").attr("transform","translate("+axisX+",0)").call(priceAxis).call(styleAxis)
  .selectAll(".tick text").attr("dy",".42em");
var volAxis = d3.axisRight(yVol).tickValues(volTicks).tickSize(9).tickPadding(10)
  .tickFormat(function(d){ return d==15 ? "15000000000000.00" : d==0 ? "0.00" : ""; });
svg.append("g").attr("transform","translate("+axisX+",0)").call(volAxis).call(styleAxis)
  .selectAll(".tick text").attr("dy",".42em");
var timeAxis = d3.axisBottom(x).tickValues(tickDates).tickSize(8).tickPadding(13)
  .tickFormat(function(d,i){ return timeLabels[i]; });
var tg = svg.append("g").attr("transform","translate(0,"+paneMacd+")").call(timeAxis).call(styleAxis);
tg.selectAll(".tick text").style("font-weight",function(d,i){ return timeLabels[i]=="2021" ? 700 : 400; });

// ---- price labels on the axes
function tag(x0,y0,w,h,bg,txt,col,tickCol,clipId){
  var g = svg.append("g");
  if(clipId) g.attr("clip-path","url(#"+clipId+")");
  if(bg) g.append("rect").attr("x",x0).attr("y",y0).attr("width",w).attr("height",h).attr("rx",2).attr("fill",bg);
  if(tickCol) g.append("line").attr("x1",x0).attr("x2",x0+10).attr("y1",y0+h/2).attr("y2",y0+h/2).attr("stroke",tickCol).attr("stroke-width",2);
  g.append("text").attr("x",x0+20).attr("y",y0+h/2+8).text(txt).style("font-size",axisFont).style("fill",col);
}
svg.append("rect").attr("x",3120).attr("y",1170).attr("width",88).attr("height",33).attr("rx",2).attr("fill",green);
svg.append("text").attr("x",3132).attr("y",1194).text("BTC.D").style("font-size","22px").style("fill","#fff");
svg.append("rect").attr("x",axisX-1).attr("y",1170).attr("width",126).attr("height",61).attr("rx",2).attr("fill",green);
svg.append("line").attr("x1",axisX).attr("x2",axisX+10).attr("y1",1186.5).attr("y2",1186.5).attr("stroke","#fff").attr("stroke-width",2);
svg.append("text").attr("x",axisX+20).attr("y",1195).text("62.02").style("font-size",axisFont).style("fill","#fff");
svg.append("text").attr("x",axisX+20).attr("y",1222).text("05:42:51").style("font-size",axisFont).style("fill","#b2dfdb");
tag(axisX-1,1832,230,33,"#ff5245","4384077365238.86","#fff","#fff");
tag(axisX-1,1866,230,33,null,"3507261892191.09","#000","#000");
tag(axisX-1,1900,230,33,"#ff5245","2279720229924.21","#fff","#fff");
tag(axisX-1,1933,230,34,"#ff0055","2055990427782.74","#fff","#fff");
tag(axisX-1,1987,80,34,"#ff6d00","0.07","#fff","#fff","cMacdLab");
tag(axisX-1,2021.5,80,34,"#0496ff","0.01","#fff","#fff");
tag(axisX-1,2055,92,34,"#ffcdd2","\u22120.06","#131722","#131722");

// ---- frame and header
svg.append("rect").attr("x",12.5).attr("y",87.5).attr("width",3451).attr("height",2103)
  .attr("fill","none").attr("stroke","#000").attr("stroke-width",2.5);

function head(x0,y0,txt,bold,col){
  svg.append("text").attr("x",x0).attr("y",y0).text(txt)
    .style("font-size",bold?"24px":"24.6px").style("font-weight",bold?700:400).style("fill",col||"#131722");
}
head(13,33,"aj7919",true);
head(96,33,"published on TradingView.com, March 18, 2021 13:17:31 EST",false);
head(13,66,"CRYPTOCAP:BTC.D, 720",true);
head(298,66,"62.02",false);
svg.append("path").attr("d","M365,66L375.5,47L386,66Z").attr("fill",green);
head(394,66,"+0.09 (+0.14%)",false);
[["O:",570,"61.73",599],["H:",670,"62.27",697],["L:",770,"61.62",791],["C:",862,"62.02",888]].forEach(function(d){
  head(d[1],66,d[0],true);
  head(d[3],66,d[2],false,green);
});

// ---- logo
svg.append("path").attr("fill","#2196f3")
  .attr("d","M11,2233C11,2226 15,2223 19,2222C21,2216 25,2212 29,2212C33,2212 37,2216 39,2221C43,2216 51,2216 55,2222C62,2224 64,2229 64,2234C64,2240 60,2242 55,2242L20,2242C14,2242 11,2238 11,2233Z");
svg.append("path").attr("d","M19,2240L31,2222L42,2238L55,2222").attr("fill","none").attr("stroke","#fff").attr("stroke-width",3.5);
svg.append("text").attr("x",67).attr("y",2236).text("TradingView").style("font-size","25px");
</script>
</body>
</html>
